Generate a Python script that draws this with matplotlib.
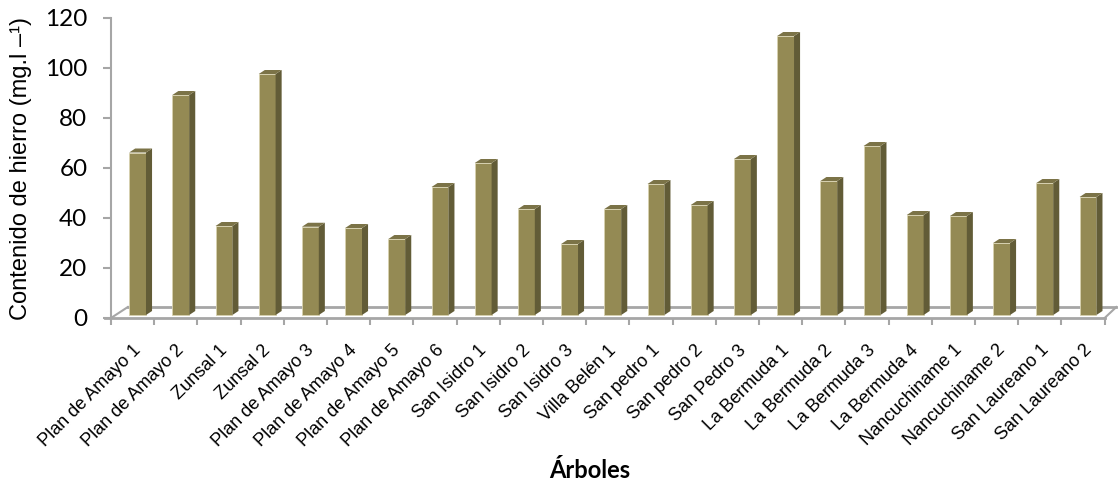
import matplotlib
matplotlib.use("Agg")
import matplotlib.pyplot as plt
from matplotlib.patches import Polygon

# Contenido de hierro por árbol muestreado
arboles = ["Plan de Amayo 1", "Plan de Amayo 2", "Zunsal 1", "Zunsal 2",
           "Plan de Amayo 3", "Plan de Amayo 4", "Plan de Amayo 5", "Plan de Amayo 6",
           "San Isidro 1", "San Isidro 2", "San Isidro 3", "Villa Belén 1",
           "San pedro 1", "San pedro 2", "San Pedro 3", "La Bermuda 1",
           "La Bermuda 2", "La Bermuda 3", "La Bermuda 4", "Nancuchiname 1",
           "Nancuchiname 2", "San Laureano 1", "San Laureano 2"]
hierro = [65, 88, 35.6, 96.4, 35.3, 34.8, 30.4, 51.2, 60.8, 42.4, 28.4, 42.4,
          52.4, 44, 62.4, 111.6, 53.6, 67.6, 40, 39.6, 28.8, 52.8, 47.2]

W, H = 1118, 487
fig = plt.figure(figsize=(W / 100, H / 100), dpi=100)
ax_l, ax_r, ax_t, ax_b = 111, 1117.6, 18, 318
ax = fig.add_axes([ax_l / W, (H - ax_b) / H, (ax_r - ax_l) / W, (ax_b - ax_t) / H])

n = len(arboles)
ax.set_xlim(0, 23.3)
ax.set_ylim(0, 120)

grey = "#a6a6a6"
front_c = "#948a54"
side_c = "#625c37"
top_c = "#7b7347"

# piso en perspectiva
depth_x, depth_y = 0.39, 4.4
ax.plot([-0.15, n], [0, 0], color=grey, lw=2, clip_on=False, zorder=1)
ax.plot([depth_x, 23.27], [depth_y, depth_y], color=grey, lw=2, clip_on=False, zorder=1)
ax.plot([0, depth_x], [0, depth_y], color=grey, lw=1.5, clip_on=False, zorder=1)
ax.plot([n, 23.27], [0, depth_y], color=grey, lw=1.5, clip_on=False, zorder=1)

# barras 3D: cara frontal, lateral y tapa
base = 1.2
x0 = [i + 0.42 for i in range(n)]
bw = 0.39
sx, sy = 0.14, 1.6
ax.bar(x0, hierro, width=bw, bottom=base, align="edge", color=front_c,
       edgecolor="#d8d2b0", linewidth=0.6, zorder=3)
for xi, v in zip(x0, hierro):
    top = base + v
    x1 = xi + bw
    ax.add_patch(Polygon([(x1, base), (x1, top), (x1 + sx, top + sy), (x1 + sx, base + sy)],
                         closed=True, facecolor=side_c, edgecolor="none", zorder=3))
    ax.add_patch(Polygon([(xi, top), (x1, top), (x1 + sx, top + sy), (xi + sx, top + sy)],
                         closed=True, facecolor=top_c, edgecolor="none", zorder=3))

# ejes
for s in ["top", "right", "bottom"]:
    ax.spines[s].set_visible(False)
ax.spines["left"].set_color(grey)
ax.spines["left"].set_linewidth(1.5)
ax.set_yticks(range(0, 121, 20))
ax.tick_params(axis="y", direction="out", length=6, width=1.5, color=grey,
               labelsize=17.5, pad=11)
for t in ax.get_yticklabels():
    t.set_family("Lato")

ax.set_xticks(range(n + 1))
ax.set_xticklabels([])
ax.tick_params(axis="x", which="major", direction="out", length=5, width=1.5, color=grey)
ax.set_xticks([i + 0.5 for i in range(n)], minor=True)
ax.set_xticklabels(arboles, minor=True, rotation=45, ha="right",
                   rotation_mode="anchor", fontsize=13, family="Liberation Sans")
ax.tick_params(axis="x", which="minor", length=0, pad=17)

ax.set_ylabel("Contenido de hierro (mg.l \u2013\u00b9)", fontsize=17,
              family="Liberation Sans")
ax.yaxis.set_label_coords(-0.078, 0.5)

fig.text(590 / W, 1 - 470 / H, "Árboles", ha="center", va="center",
         fontsize=17, fontweight="bold", family="Lato")

fig.savefig("out.png", dpi=100)
